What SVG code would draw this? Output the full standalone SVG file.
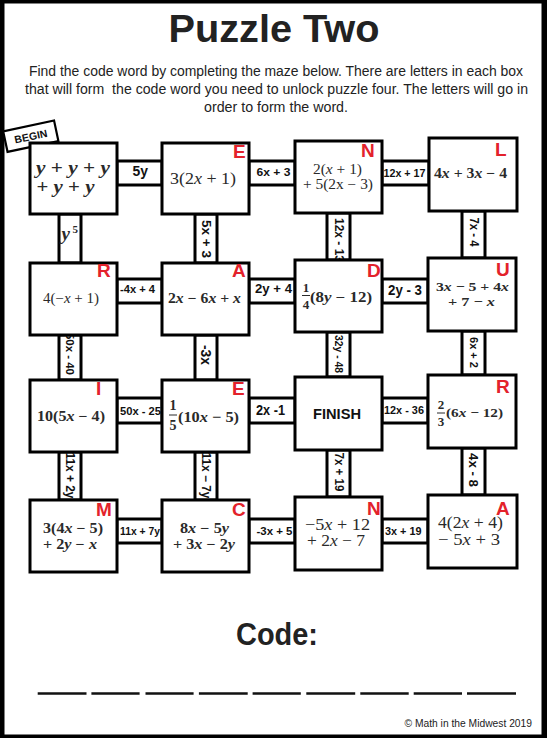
<svg xmlns="http://www.w3.org/2000/svg" width="547" height="738" viewBox="0 0 547 738">
<style>
.box{fill:#fff;stroke:#000;stroke-width:3}
.conn{fill:#fff;stroke:#000;stroke-width:3}
.m{font-family:"Liberation Serif","DejaVu Serif",serif;fill:#2a2a2a}
.b{font-weight:bold}
.i{font-style:italic}
.lbl{font-family:"Liberation Sans",Arial,sans-serif;font-weight:bold;fill:#111}
.vl{font-family:"Liberation Sans",Arial,sans-serif;font-weight:bold;fill:#111;text-anchor:middle;dominant-baseline:central}
.ltr{font-family:"Liberation Sans",Arial,sans-serif;font-weight:bold;fill:#e3222b;font-size:19px}
.txt{font-family:"Liberation Sans",Arial,sans-serif;fill:#222}
.dash{stroke:#111;stroke-width:2.5}
</style>
<rect x="0" y="0" width="547" height="738" fill="#000"/>
<rect x="4.5" y="3.5" width="537" height="731" fill="#fff"/>

<g id="header">
<text class="txt b" x="168.5" y="42" font-size="38" textLength="211" lengthAdjust="spacingAndGlyphs" fill="#111">Puzzle Two</text>
<text class="txt" x="29" y="75.5" font-size="14" textLength="494" lengthAdjust="spacingAndGlyphs">Find the code word by completing the maze below. There are letters in each box</text>
<text class="txt" x="25" y="93.5" font-size="14" textLength="503" lengthAdjust="spacingAndGlyphs" xml:space="preserve">that will form  the code word you need to unlock puzzle four. The letters will go in</text>
<text class="txt" x="276" y="112" font-size="14" text-anchor="middle" textLength="144" lengthAdjust="spacingAndGlyphs">order to form the word.</text>
</g>

<g id="begin" transform="translate(30.8,136.2) rotate(-12)">
<rect x="-26" y="-10.5" width="52" height="21" fill="#fff" stroke="#000" stroke-width="2.2"/>
<text class="lbl" x="0" y="0" font-size="10.5" text-anchor="middle" dominant-baseline="central">BEGIN</text>
</g>

<g id="connectors">
<rect class="conn" x="117" y="161" width="45" height="24"/>
<rect class="conn" x="249" y="161" width="46" height="24"/>
<rect class="conn" x="382" y="161" width="47" height="24"/>
<rect class="conn" x="117" y="279" width="45" height="24"/>
<rect class="conn" x="249" y="279" width="46" height="24"/>
<rect class="conn" x="382" y="279" width="46" height="24"/>
<rect class="conn" x="117" y="398" width="45" height="25"/>
<rect class="conn" x="249" y="398" width="46" height="25"/>
<rect class="conn" x="382" y="398" width="46" height="25"/>
<rect class="conn" x="117" y="519" width="45" height="24"/>
<rect class="conn" x="249" y="519" width="46" height="24"/>
<rect class="conn" x="382" y="519" width="46" height="24"/>
<rect class="conn" x="59" y="214" width="22" height="49"/>
<rect class="conn" x="195" y="214" width="22" height="49"/>
<rect class="conn" x="327" y="213" width="23" height="47"/>
<rect class="conn" x="462" y="211" width="23" height="47"/>
<rect class="conn" x="59" y="335" width="22" height="45"/>
<rect class="conn" x="195" y="335" width="22" height="45"/>
<rect class="conn" x="327" y="332" width="23" height="45"/>
<rect class="conn" x="462" y="331" width="23" height="44"/>
<rect class="conn" x="59" y="452" width="22" height="48"/>
<rect class="conn" x="195" y="452" width="22" height="48"/>
<rect class="conn" x="327" y="450" width="23" height="47"/>
<rect class="conn" x="462" y="448" width="23" height="47"/>

<text class="lbl" x="132.5" y="176" font-size="14" textLength="15.5" lengthAdjust="spacingAndGlyphs">5y</text>
<text class="lbl" x="256.5" y="176" font-size="11" textLength="34" lengthAdjust="spacingAndGlyphs">6x + 3</text>
<text class="lbl" x="383.5" y="177" font-size="11" textLength="42" lengthAdjust="spacingAndGlyphs">12x + 17</text>
<text class="lbl" x="120" y="293" font-size="11" textLength="35" lengthAdjust="spacingAndGlyphs">-4x + 4</text>
<text class="lbl" x="255" y="293" font-size="12" textLength="37" lengthAdjust="spacingAndGlyphs">2y + 4</text>
<text class="lbl" x="388" y="295" font-size="14" textLength="34" lengthAdjust="spacingAndGlyphs">2y - 3</text>
<text class="lbl" x="120" y="414.5" font-size="11" textLength="41" lengthAdjust="spacingAndGlyphs">50x - 25</text>
<text class="lbl" x="256" y="414.5" font-size="14" textLength="29" lengthAdjust="spacingAndGlyphs">2x -1</text>
<text class="lbl" x="384" y="414" font-size="11" textLength="40" lengthAdjust="spacingAndGlyphs">12x - 36</text>
<text class="lbl" x="120" y="535" font-size="10.5" textLength="40" lengthAdjust="spacingAndGlyphs">11x + 7y</text>
<text class="lbl" x="256.5" y="535" font-size="11" textLength="36" lengthAdjust="spacingAndGlyphs">-3x + 5</text>
<text class="lbl" x="385" y="535" font-size="11" textLength="36.5" lengthAdjust="spacingAndGlyphs">3x + 19</text>

<text class="m b i" x="61.5" y="240" font-size="19" fill="#1a1a1a">y</text>
<text class="m b" x="72.5" y="233" font-size="11" fill="#1a1a1a">5</text>
<text class="vl" transform="translate(206,239) rotate(90)" font-size="12.5" textLength="38" lengthAdjust="spacingAndGlyphs">5x + 3</text>
<text class="vl" transform="translate(338.5,240) rotate(90)" font-size="12" textLength="44" lengthAdjust="spacingAndGlyphs">12x - 13</text>
<text class="vl" transform="translate(473.5,232) rotate(90)" font-size="12" textLength="29" lengthAdjust="spacingAndGlyphs">7x - 4</text>
<text class="vl" transform="translate(70,354) rotate(90)" font-size="11" textLength="42" lengthAdjust="spacingAndGlyphs">50x - 40</text>
<text class="vl" transform="translate(206,355) rotate(90)" font-size="14" textLength="20" lengthAdjust="spacingAndGlyphs">-3x</text>
<text class="vl" transform="translate(338.5,354) rotate(90)" font-size="11" textLength="38" lengthAdjust="spacingAndGlyphs">32y - 48</text>
<text class="vl" transform="translate(473.5,352.5) rotate(90)" font-size="11.5" textLength="31" lengthAdjust="spacingAndGlyphs">6x + 2</text>
<text class="vl" transform="translate(70,475.5) rotate(90)" font-size="12" textLength="46" lengthAdjust="spacingAndGlyphs">11x + 2y</text>
<text class="vl" transform="translate(206,475.5) rotate(90)" font-size="12" textLength="46" lengthAdjust="spacingAndGlyphs">11x − 7y</text>
<text class="vl" transform="translate(338.5,472) rotate(90)" font-size="12" textLength="39" lengthAdjust="spacingAndGlyphs">7x + 19</text>
<text class="vl" transform="translate(473.5,470) rotate(90)" font-size="13" textLength="34" lengthAdjust="spacingAndGlyphs">4x - 8</text>
</g>

<g id="n1">
<rect class="box" x="30" y="143" width="87" height="71"/>
<text class="m b" x="36" y="174" font-size="18" textLength="74" lengthAdjust="spacingAndGlyphs"><tspan class="i">y</tspan> + <tspan class="i">y</tspan> + <tspan class="i">y</tspan></text>
<text class="m b" x="36.5" y="193" font-size="18" textLength="58" lengthAdjust="spacingAndGlyphs">+ <tspan class="i">y</tspan> + <tspan class="i">y</tspan></text>
</g>

<g id="n2">
<rect class="box" x="162" y="143" width="87" height="71"/>
<text class="ltr" x="233" y="157.5">E</text>
<text class="m" x="170" y="184" font-size="16" textLength="66" lengthAdjust="spacingAndGlyphs">3(2<tspan class="i">x</tspan> + 1)</text>
</g>

<g id="n3">
<rect class="box" x="295" y="141" width="87" height="72"/>
<text class="ltr" x="361" y="157">N</text>
<text class="m" x="313" y="174" font-size="14" textLength="49" lengthAdjust="spacingAndGlyphs">2(<tspan class="i">x</tspan> + 1)</text>
<text class="m" x="303" y="189" font-size="14" textLength="70" lengthAdjust="spacingAndGlyphs">+ 5(2x − 3)</text>
</g>

<g id="n4">
<rect class="box" x="429" y="138" width="88" height="73"/>
<text class="ltr" x="495" y="156">L</text>
<text class="m b" x="434" y="178" font-size="14" textLength="73" lengthAdjust="spacingAndGlyphs">4<tspan class="i">x</tspan> + 3<tspan class="i">x</tspan> − 4</text>
</g>

<g id="n5">
<rect class="box" x="30" y="263" width="87" height="72"/>
<text class="ltr" x="97" y="277">R</text>
<text class="m" x="43" y="303" font-size="14" textLength="56" lengthAdjust="spacingAndGlyphs">4(−<tspan class="i">x</tspan> + 1)</text>
</g>

<g id="n6">
<rect class="box" x="162" y="263" width="87" height="72"/>
<text class="ltr" x="232" y="277">A</text>
<text class="m b" x="168" y="303" font-size="14" textLength="73" lengthAdjust="spacingAndGlyphs">2<tspan class="i">x</tspan> − 6<tspan class="i">x</tspan> + <tspan class="i">x</tspan></text>
</g>

<g id="n7">
<rect class="box" x="295" y="260" width="87" height="72"/>
<text class="ltr" x="367" y="277">D</text>
<text class="m b" x="306" y="291.5" font-size="13" text-anchor="middle">1</text>
<line x1="302" y1="295.5" x2="310" y2="295.5" stroke="#2a2a2a" stroke-width="1"/>
<text class="m b" x="306" y="309" font-size="13" text-anchor="middle">4</text>
<text class="m b" x="310" y="302" font-size="14" textLength="62" lengthAdjust="spacingAndGlyphs">(8<tspan class="i">y</tspan> − 12)</text>
</g>

<g id="n8">
<rect class="box" x="428" y="258" width="88" height="73"/>
<text class="ltr" x="496" y="276">U</text>
<text class="m b" x="436" y="290.5" font-size="13" textLength="73" lengthAdjust="spacingAndGlyphs">3<tspan class="i">x</tspan> − 5 + 4<tspan class="i">x</tspan></text>
<text class="m b" x="448" y="306" font-size="13" textLength="47" lengthAdjust="spacingAndGlyphs">+ 7 − <tspan class="i">x</tspan></text>
</g>

<g id="n9">
<rect class="box" x="30" y="380" width="87" height="72"/>
<text class="ltr" x="96" y="395">I</text>
<text class="m b" x="37" y="421" font-size="14" textLength="68" lengthAdjust="spacingAndGlyphs">10(5<tspan class="i">x</tspan> − 4)</text>
</g>

<g id="n10">
<rect class="box" x="162" y="380" width="87" height="72"/>
<text class="ltr" x="232" y="395">E</text>
<text class="m b" x="173" y="410" font-size="14" text-anchor="middle">1</text>
<line x1="169" y1="415" x2="177" y2="415" stroke="#2a2a2a" stroke-width="1"/>
<text class="m b" x="173" y="430" font-size="14" text-anchor="middle">5</text>
<text class="m b" x="178" y="422" font-size="15" textLength="61" lengthAdjust="spacingAndGlyphs">(10<tspan class="i">x</tspan> − 5)</text>
</g>

<g id="n11">
<rect class="box" x="295" y="377" width="87" height="73"/>
<text class="lbl" x="313" y="419" font-size="14.5" textLength="48" lengthAdjust="spacingAndGlyphs">FINISH</text>
</g>

<g id="n12">
<rect class="box" x="428" y="375" width="88" height="73"/>
<text class="ltr" x="496" y="393">R</text>
<text class="m b" x="441" y="408.5" font-size="13" text-anchor="middle">2</text>
<line x1="437" y1="413" x2="445" y2="413" stroke="#2a2a2a" stroke-width="1"/>
<text class="m b" x="441" y="426" font-size="13" text-anchor="middle">3</text>
<text class="m b" x="446" y="417" font-size="13" textLength="57" lengthAdjust="spacingAndGlyphs">(6<tspan class="i">x</tspan> − 12)</text>
</g>

<g id="n13">
<rect class="box" x="30" y="500" width="87" height="72"/>
<text class="ltr" x="96" y="516" font-size="21">M</text>
<text class="m b" x="43" y="533" font-size="14" textLength="60" lengthAdjust="spacingAndGlyphs">3(4<tspan class="i">x</tspan> − 5)</text>
<text class="m b" x="43" y="548.5" font-size="14" textLength="54" lengthAdjust="spacingAndGlyphs">+ 2<tspan class="i">y</tspan> − <tspan class="i">x</tspan></text>
</g>

<g id="n14">
<rect class="box" x="162" y="500" width="87" height="72"/>
<text class="ltr" x="232" y="516" font-size="21">C</text>
<text class="m b" x="180" y="533" font-size="14" textLength="49" lengthAdjust="spacingAndGlyphs">8<tspan class="i">x</tspan> − 5<tspan class="i">y</tspan></text>
<text class="m b" x="173" y="548.5" font-size="14" textLength="62" lengthAdjust="spacingAndGlyphs">+ 3<tspan class="i">x</tspan> − 2<tspan class="i">y</tspan></text>
</g>

<g id="n15">
<rect class="box" x="295" y="497" width="87" height="73"/>
<text class="ltr" x="367" y="515" font-size="20">N</text>
<text class="m" x="305" y="530" font-size="17" textLength="65" lengthAdjust="spacingAndGlyphs">−5<tspan class="i">x</tspan> + 12</text>
<text class="m" x="307" y="546" font-size="17" textLength="58" lengthAdjust="spacingAndGlyphs">+ 2<tspan class="i">x</tspan> − 7</text>
</g>

<g id="n16">
<rect class="box" x="428" y="495" width="89" height="73"/>
<text class="ltr" x="496" y="515">A</text>
<text class="m" x="438" y="528" font-size="17" textLength="65" lengthAdjust="spacingAndGlyphs">4(2<tspan class="i">x</tspan> + 4)</text>
<text class="m" x="438" y="545" font-size="17" textLength="62" lengthAdjust="spacingAndGlyphs">− 5<tspan class="i">x</tspan> + 3</text>
</g>

<g id="footer">
<text class="txt b" x="236" y="645" font-size="32" textLength="82" lengthAdjust="spacingAndGlyphs" fill="#111">Code:</text>
<line class="dash" x1="37.7" y1="693.5" x2="86.5" y2="693.5"/>
<line class="dash" x1="91.4" y1="693.5" x2="139.6" y2="693.5"/>
<line class="dash" x1="145.5" y1="693.5" x2="193.6" y2="693.5"/>
<line class="dash" x1="198.9" y1="693.5" x2="247.7" y2="693.5"/>
<line class="dash" x1="252.6" y1="693.5" x2="300.8" y2="693.5"/>
<line class="dash" x1="306.3" y1="693.5" x2="355.2" y2="693.5"/>
<line class="dash" x1="360.3" y1="693.5" x2="408.7" y2="693.5"/>
<line class="dash" x1="413.7" y1="693.5" x2="462" y2="693.5"/>
<line class="dash" x1="467" y1="693.5" x2="516" y2="693.5"/>
<text class="txt" x="404.5" y="727" font-size="10" textLength="127.5" lengthAdjust="spacingAndGlyphs" fill="#333">© Math in the Midwest 2019</text>
</g>
</svg>
